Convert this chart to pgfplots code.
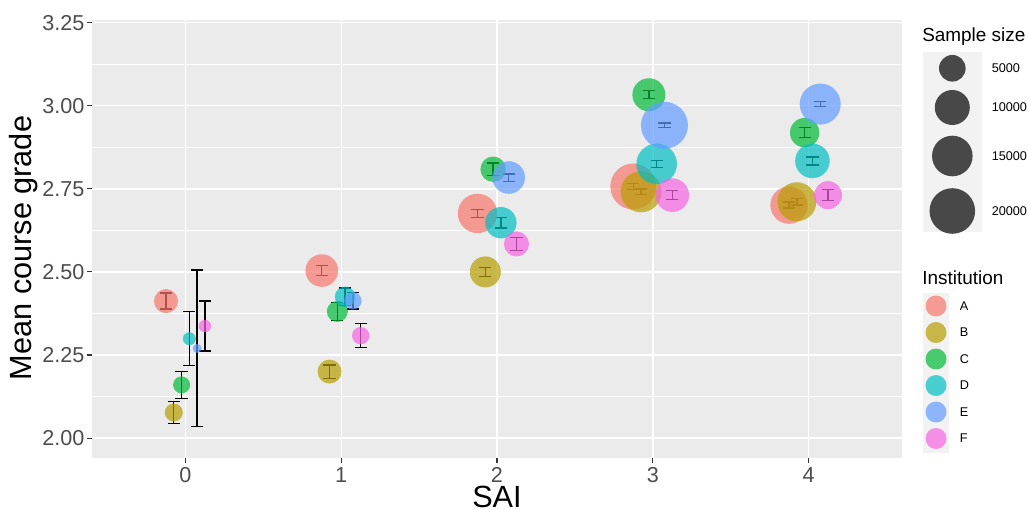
\documentclass[border=0pt]{standalone}
\usepackage{pgfplots}
\pgfplotsset{compat=1.18}
\usepackage{pgfplotstable}
\usepackage{fontspec}
\setmainfont{Liberation Sans}
\definecolor{ggbg}{HTML}{EBEBEB}
\definecolor{gray20}{HTML}{333333}
\definecolor{gray30}{HTML}{4D4D4D}
\definecolor{legbg}{HTML}{F2F2F2}
\definecolor{cA}{HTML}{F8766D}
\definecolor{cB}{HTML}{B79F00}
\definecolor{cC}{HTML}{00BA38}
\definecolor{cD}{HTML}{00BFC4}
\definecolor{cE}{HTML}{619CFF}
\definecolor{cF}{HTML}{F564E3}

% x = SAI (dodged), y = mean grade, e = half error bar, r = bubble radius (px)
\pgfplotstableread{
x y e r
-0.125 2.412 0.024 12
0.875 2.504 0.015 16.3
1.875 2.676 0.012 19.7
2.875 2.757 0.009 23
3.875 2.701 0.009 18.7
}\tA
\pgfplotstableread{
x y e r
-0.075 2.077 0.033 9
0.925 2.200 0.020 12
1.925 2.500 0.014 15.5
2.925 2.741 0.008 20.5
3.925 2.711 0.010 19.5
}\tB
\pgfplotstableread{
x y e r
-0.025 2.160 0.040 8.5
0.975 2.381 0.027 10.5
1.975 2.809 0.019 12.7
2.975 3.033 0.012 16.5
3.975 2.919 0.015 14.7
}\tC
\pgfplotstableread{
x y e r
0.025 2.299 0.081 6.5
1.025 2.425 0.027 10.3
2.025 2.648 0.016 15.7
3.025 2.825 0.010 20.3
4.025 2.834 0.012 17.3
}\tD
\pgfplotstableread{
x y e r
0.075 2.270 0.236 4.5
1.075 2.413 0.025 8.7
2.075 2.784 0.011 16.3
3.075 2.941 0.007 23.5
4.075 3.005 0.008 20.5
}\tE
\pgfplotstableread{
x y e r
0.125 2.337 0.075 6.2
1.125 2.308 0.036 8.7
2.125 2.584 0.020 12.5
3.125 2.731 0.013 16.8
4.125 2.731 0.016 14
}\tF

\pgfplotsset{
  bub/.style={scatter, only marks, mark=*,
    scatter/use mapped color={draw=#1, draw opacity=0, fill=#1, fill opacity=0.7},
    mark options={line width=0pt},
    visualization depends on={0.75*\thisrow{r} \as \rad},
    scatter/@pre marker code/.append style={/tikz/mark size=\rad}},
  ebar/.style={draw=none, mark=none, forget plot,
    error bars/.cd, y dir=both, y explicit,
    error bar style={draw=black, line width=1pt},
    error mark options={draw=black, line width=1pt, mark size=4.6pt, rotate=90}},
}
\tikzset{
  legtxt/.style={anchor=west, inner sep=0pt, font=\fontsize{9.5}{11}\selectfont},
  legttl/.style={anchor=base west, inner sep=0pt, font=\fontsize{14.2}{16}\selectfont},
}

\begin{document}
\begin{tikzpicture}
\useasboundingbox (0,0) rectangle (771pt,382.5pt);
\begin{axis}[
  at={(372.75pt,203.25pt)}, anchor=center, scale only axis,
  width=607.5pt, height=328.5pt,
  xmin=-0.6, xmax=4.6, ymin=1.94, ymax=3.258,
  axis background/.style={fill=ggbg},
  axis line style={draw=none},
  xtick={0,1,2,3,4}, xticklabels={0,1,2,3,4},
  ytick={2,2.25,2.5,2.75,3,3.25}, yticklabels={2.00,2.25,2.50,2.75,3.00,3.25},
  minor ytick={2.125,2.375,2.625,2.875,3.125},
  grid=both,
  major grid style={white, line width=1.1pt},
  minor grid style={white, line width=0.55pt},
  tick align=outside, xtick pos=left, ytick pos=left,
  major tick length=3.75pt, minor tick length=0pt,
  tick style={gray20, line width=0.8pt},
  ticklabel style={font=\fontsize{16.2}{19}\selectfont, text=gray30},
  yticklabel style={xshift=1.5pt},
  xlabel={SAI}, ylabel={Mean course grade},
  every axis x label/.style={at={(axis description cs:0.5,-0.112)}, anchor=base,
     font=\fontsize{23}{27}\selectfont},
  every axis y label/.style={at={(axis description cs:-0.0744,0.4795)}, anchor=base, rotate=90,
     font=\fontsize{23}{27}\selectfont},
]
\addplot[bub=cA] table[x=x,y=y] {\tA};
\addplot[bub=cB] table[x=x,y=y] {\tB};
\addplot[bub=cC] table[x=x,y=y] {\tC};
\addplot[bub=cD] table[x=x,y=y] {\tD};
\addplot[bub=cE] table[x=x,y=y] {\tE};
\addplot[bub=cF] table[x=x,y=y] {\tF};
\addplot[ebar] table[x=x,y=y,y error=e] {\tA};
\addplot[ebar] table[x=x,y=y,y error=e] {\tB};
\addplot[ebar] table[x=x,y=y,y error=e] {\tC};
\addplot[ebar] table[x=x,y=y,y error=e] {\tD};
\addplot[ebar] table[x=x,y=y,y error=e] {\tE};
\addplot[ebar] table[x=x,y=y,y error=e] {\tF};
\end{axis}

% legends, in pixel coordinates of the 1028x510 picture
\begin{axis}[
  at={(385.5pt,191.25pt)}, anchor=center, scale only axis,
  width=771pt, height=382.5pt,
  xmin=0, xmax=1028, ymin=0, ymax=510, y dir=reverse,
  hide axis, clip=false]
\fill[legbg] (axis cs:923,52) rectangle (axis cs:982,232);
\fill[legbg] (axis cs:923,293) rectangle (axis cs:949,453);
\addplot[bub=black] table {
x y r
952.3 68.3 13.3
952.3 107.5 17.5
952.3 156 20.3
952.3 211 22.8
};
\addplot[bub=cA] table {x y r
936 306 10.5
};
\addplot[bub=cB] table {x y r
936 332.5 10.5
};
\addplot[bub=cC] table {x y r
936 359 10.5
};
\addplot[bub=cD] table {x y r
936 385.5 10.5
};
\addplot[bub=cE] table {x y r
936 412 10.5
};
\addplot[bub=cF] table {x y r
936 438.5 10.5
};
\node[legttl] at (axis cs:922,42) {Sample size};
\node[legttl] at (axis cs:922,284) {Institution};
\node[legtxt] at (axis cs:991.5,68.3) {5000};
\node[legtxt] at (axis cs:991.5,107.5) {10000};
\node[legtxt] at (axis cs:991.5,156) {15000};
\node[legtxt] at (axis cs:991.5,211) {20000};
\node[legtxt] at (axis cs:959.5,306) {A};
\node[legtxt] at (axis cs:959.5,332.5) {B};
\node[legtxt] at (axis cs:959.5,359) {C};
\node[legtxt] at (axis cs:959.5,385.5) {D};
\node[legtxt] at (axis cs:959.5,412) {E};
\node[legtxt] at (axis cs:959.5,438.5) {F};
\end{axis}
\end{tikzpicture}
\end{document}
